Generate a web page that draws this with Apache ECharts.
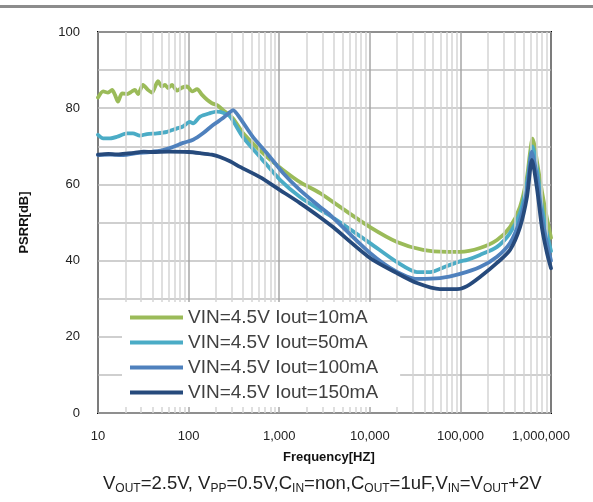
<!DOCTYPE html>
<html>
<head>
<meta charset="utf-8">
<script src="https://cdn.jsdelivr.net/npm/echarts@6/dist/echarts.min.js"></script>
<style>
html,body{margin:0;padding:0;background:#fff;}
#chart{width:593px;height:502px;}
</style>
</head>
<body>
<div id="chart"></div>
<script>
// ---- data (frequency [Hz], PSRR [dB]) ----
const seriesNames = ['VIN=4.5V Iout=10mA','VIN=4.5V Iout=50mA','VIN=4.5V Iout=100mA','VIN=4.5V Iout=150mA'];

const iout10 = [[10,82.8],[11.4,84.4],[12.9,84.1],[14.3,84.8],[15.4,83.5],[16.6,81.7],[18.4,83.9],[20.9,83.7],[23.7,84.4],[25.6,84.8],[27.6,83.7],[31.4,86.1],[35.6,84.8],[39.5,84.1],[45.9,87.1],[50.8,85.7],[54.9,86.1],[59.3,85.3],[65.6,86.1],[74.5,84.6],[84.6,85.4],[96,85.7],[109,84.4],[124,85],[141,83.5],[160,82.2],[181,81.3],[206,80.8],[240,79.5],[309,77.3],[398,73.5],[733,67.2],[1102,63.8],[1698,60.6],[2820,57.7],[4691,54.1],[10050,48.8],[19950,44.9],[38650,42.8],[71120,42.3],[99100,42.3],[164500,43.3],[253600,45.4],[352700,48.8],[455000,54.1],[543000,61.9],[586000,68.2],[625000,72],[660000,70],[700000,66],[796000,58],[903000,51],[1000000,46]];

const iout50 = [[10,73],[11.4,72.1],[13.6,72.1],[16.2,72.5],[20.9,73.4],[24.3,73.4],[29,72.8],[34.7,73.2],[44.8,73.4],[57.7,73.8],[74.5,74.7],[86.6,75.2],[103,76.4],[112,76],[134,77.8],[172,78.7],[206,79.1],[240,78.8],[287,77.8],[398,72.4],[614,67.2],[1021,61.2],[1698,56.7],[2820,53.3],[3636,51.8],[10050,44.6],[19950,39.6],[33190,37],[46150,37],[71120,38.6],[99100,39.8],[118300,40.2],[164500,41.5],[253600,43.6],[352700,47.2],[455000,52.5],[543000,60.4],[601000,68.2],[625000,70],[700000,64],[796000,54],[903000,47],[1000000,42.5]];

const iout100 = [[10,67.7],[13.6,67.8],[18.9,67.7],[26.9,68.2],[37.5,68.5],[52,69],[67,69.8],[87,70.9],[112,71.7],[144,73.4],[186,75.6],[240,77.4],[287,79],[309,79.5],[369,77.4],[514,72.4],[733,68.2],[1102,63],[1698,58.5],[2820,54.1],[3636,52],[10050,42],[19950,37],[33190,35.2],[59520,35.4],[99100,36.5],[164500,38.3],[253600,41],[352700,44.6],[455000,50.7],[543000,58.5],[616000,68.6],[700000,62],[796000,51.5],[903000,44.5],[1000000,40]];

const iout150 = [[10,67.8],[13,68],[16,67.9],[20,68.1],[25,68.3],[32,68.6],[40,68.5],[60,68.6],[100,68.5],[134,68.2],[180,67.8],[222,67.2],[290,66],[369,64.6],[614,61.9],[1021,58.5],[1698,55.1],[2820,51.4],[3926,48.8],[10050,40.7],[19950,36.7],[33190,34.1],[59520,32.5],[91660,32.5],[118300,33.3],[164500,35.7],[253600,39.4],[352700,42.8],[455000,48.8],[543000,56.7],[616000,66.4],[700000,59],[796000,48.5],[903000,42],[1000000,38]];

const xTickLabels = ['10','100','1,000','10,000','100,000','1,000,000'];
const yTickLabels = ['0','20','40','60','80','100'];
const minorGridFreqs = [];
[10,100,1000,10000,100000].forEach(d => { for (let k = 2; k <= 9; k++) minorGridFreqs.push(d * k); });

const colors = ['#9BBB59','#4BACC6','#4F81BD','#264A7C'];
const allData = [iout10, iout50, iout100, iout150];

const chart = echarts.init(document.getElementById('chart'), null, {renderer:'canvas'});
const FONT = 'Liberation Sans';

const series = [{
  name: 'minor', type: 'line', data: [], z: 1, silent: true,
  markLine: {
    silent: true, symbol: 'none', animation: false,
    label: {show: false},
    lineStyle: {color: '#D4D4D4', width: 1.5, type: 'solid'},
    emphasis: {disabled: true},
    data: minorGridFreqs.map(f => ({xAxis: f}))
  }
}];
allData.forEach((d, i) => {
  series.push({
    name: seriesNames[i], type: 'line', data: d, symbol: 'none', smooth: 0.25,
    z: 3 + i,
    lineStyle: {color: colors[i], width: 3.8, cap: 'round', join: 'round'},
    itemStyle: {color: colors[i]}
  });
});

chart.setOption({
  animation: false,
  backgroundColor: '#fff',
  grid: {left: 98, right: 42, top: 32, bottom: 89, show: true, borderColor: '#000', borderWidth: 2, backgroundColor: 'transparent'},
  xAxis: {
    type: 'log', logBase: 10, min: 10, max: 1000000,
    axisLine: {show: false}, axisTick: {show: false},
    splitLine: {show: true, lineStyle: {color: '#A6A6A6', width: 1.5}},
    axisLabel: {
      margin: 17, fontSize: 13, color: '#222', fontFamily: FONT,
      formatter: v => {
        const idx = Math.round(Math.log10(v)) - 1;
        const t = xTickLabels[idx] || '';
        return idx === xTickLabels.length - 1 ? '{last|' + t + '}' : t;
      },
      rich: {last: {fontSize: 13, color: '#222', fontFamily: FONT, padding: [0, 20, 0, 0]}}
    }
  },
  yAxis: {
    type: 'value', min: 0, max: 100, interval: 10,
    name: 'PSRR[dB]', nameLocation: 'middle', nameGap: 67, nameRotate: 90,
    nameTextStyle: {fontSize: 13, fontWeight: 'bold', color: '#111', fontFamily: FONT},
    axisLine: {show: false}, axisTick: {show: false},
    splitLine: {show: true, lineStyle: {color: '#BFBFBF', width: 1.5}},
    axisLabel: {
      margin: 18, fontSize: 13, color: '#222', fontFamily: FONT,
      formatter: v => (v % 20 === 0 ? yTickLabels[v / 20] : '')
    }
  },
  legend: {
    z: 50, zlevel: 0,
    orient: 'vertical', left: 122, top: 302,
    backgroundColor: '#fff', padding: [6, 22, 5, 8],
    itemGap: 6, itemWidth: 53, itemHeight: 4, icon: 'rect',
    textStyle: {fontSize: 19, color: '#404040', fontFamily: FONT, lineHeight: 19},
    data: seriesNames, selectedMode: false
  },
  graphic: [
    {type: 'rect', left: 0, top: 5, shape: {width: 593, height: 3}, style: {fill: '#8C8C8C'}, silent: true},
    {type: 'text', left: 338 - 55, top: 451, style: {text: 'Frequency[HZ]', font: 'bold 13px "Liberation Sans"', fill: '#111'}},
    {type: 'text', left: 103, top: 473, style: {
      text: 'V{s|OUT}=2.5V, V{s|PP}=0.5V,C{s|IN}=non,C{s|OUT}=1uF,V{s|IN}=V{s|OUT}+2V',
      fontSize: 18.5, fontFamily: FONT, fill: '#222', lineHeight: 22, verticalAlign: 'top',
      rich: {s: {fontSize: 12, fontFamily: FONT, fill: '#222', verticalAlign: 'bottom', lineHeight: 13}}
    }}
  ],
  series: series
});
</script>
</body>
</html>
